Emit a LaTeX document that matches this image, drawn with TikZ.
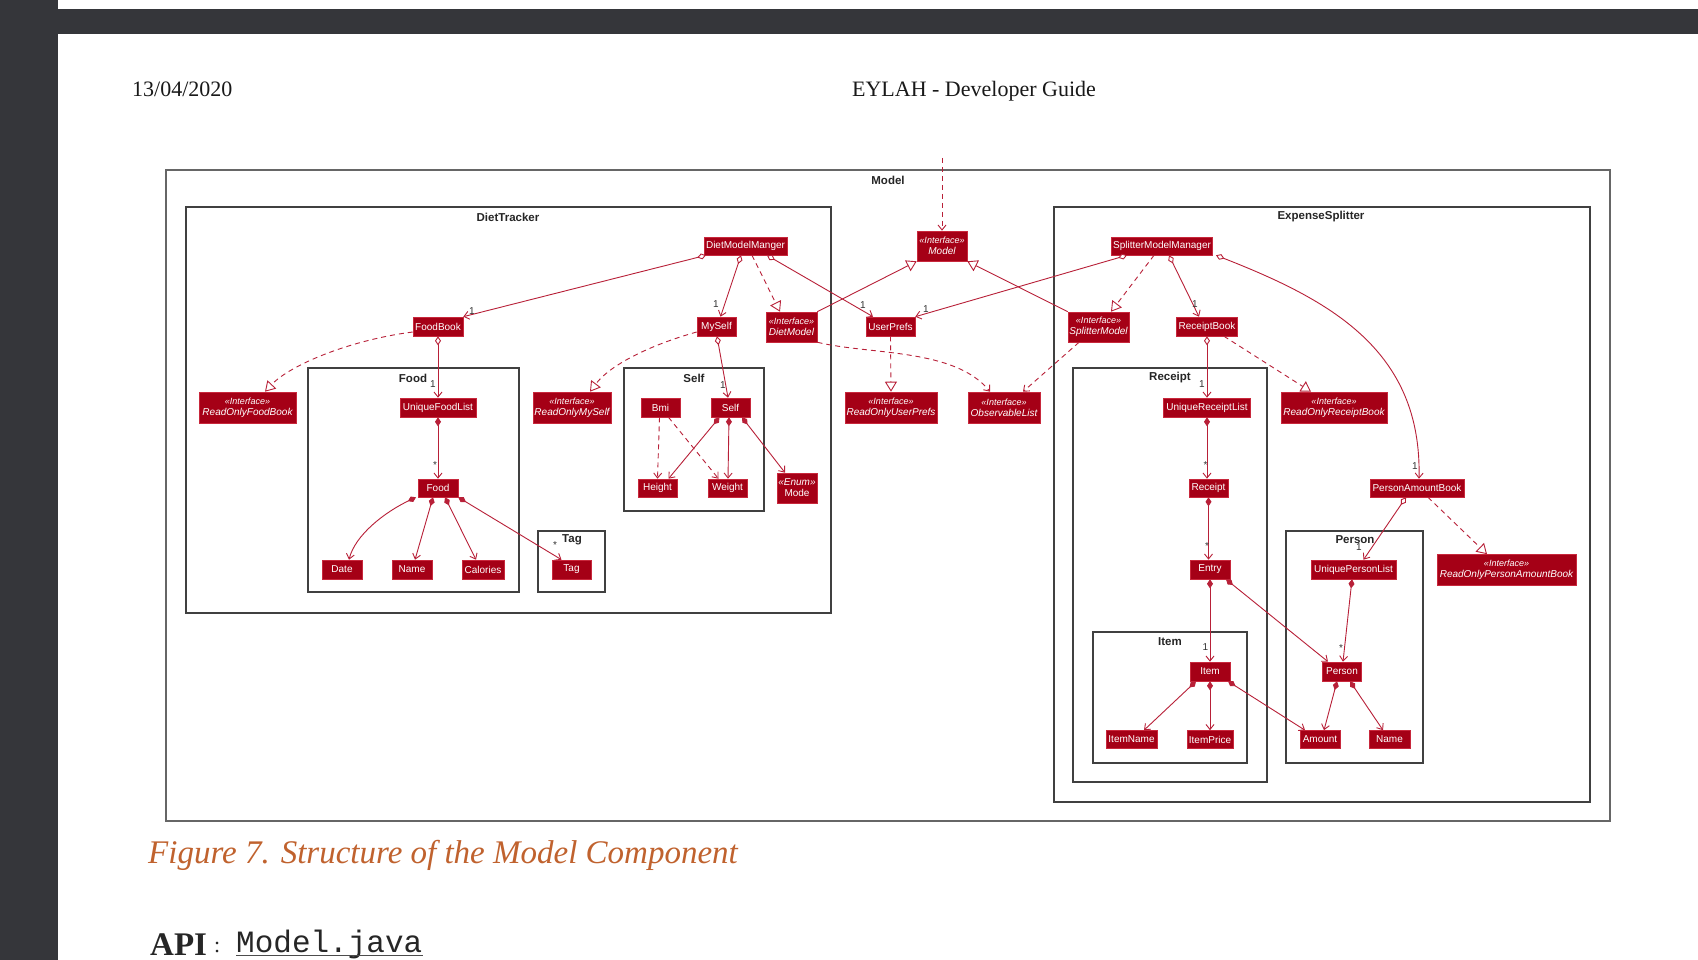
\documentclass[tikz,border=0pt]{standalone}
\usepackage{fontspec}
\setmainfont{Liberation Serif}
\setsansfont{Liberation Sans}
\setmonofont{Liberation Mono}
\usetikzlibrary{arrows.meta,calc}
\definecolor{clsfill}{HTML}{A50016}
\definecolor{clsdraw}{HTML}{C8283C}
\definecolor{conncol}{HTML}{B82038}
\definecolor{pagedark}{HTML}{35363A}
\definecolor{capcol}{HTML}{C0622E}
\newcommand\stereotag[1]{{\fontsize{9}{9}\selectfont«#1»}}
\begin{document}
\begin{tikzpicture}[x=1pt,y=-1pt,
  cls/.style={fill=clsfill,draw=clsdraw,line width=0.6pt,text=white,
    font=\sffamily\fontsize{10}{11}\selectfont,minimum height=19pt,inner sep=0pt,align=center},
  iface/.style={cls,minimum height=31pt,font=\sffamily\itshape\fontsize{10}{11}\selectfont},
  pkg/.style={draw=black!75,line width=1.2pt},
  pkgtitle/.style={font=\sffamily\bfseries\fontsize{11.5}{12}\selectfont,text=black!85,inner sep=0pt},
  mult/.style={font=\sffamily\fontsize{10}{11}\selectfont,text=black!80,inner sep=0pt},
  conn/.style={draw=conncol,line width=0.9pt},
  dsh/.style={dash pattern=on 5pt off 4pt},
  agg/.style={conn,{Diamond[fill=white,length=9pt,width=6pt]}-{Straight Barb[length=5pt,width=8pt]}},
  comp/.style={conn,{Diamond[length=9pt,width=6pt]}-{Straight Barb[length=5pt,width=8pt]}},
  real/.style={conn,dsh,-{Triangle[fill=white,length=10pt,width=12pt]}},
  gen/.style={conn,-{Triangle[fill=white,length=10pt,width=12pt]}},
  dep/.style={conn,dsh,-{Straight Barb[length=5pt,width=8pt]}}
]
\useasboundingbox (0,0) rectangle (1698,960);
\fill[white] (0,0) rectangle (1698,960);
% page frame
\fill[pagedark] (0,0) rectangle (58,960);
\fill[pagedark] (58,9) rectangle (1698,34);
\node[anchor=base west,font=\fontsize{22}{24}\selectfont,text=black!90,inner sep=0pt] (date) at (132,96.5) {13/04/2020};
\node[anchor=base,font=\fontsize{22}{24}\selectfont,text=black!90,inner sep=0pt] (hdr) at (974,96.5) {EYLAH - Developer Guide};
\node[anchor=base west,font=\itshape\fontsize{33}{35}\selectfont,text=capcol,inner sep=0pt] (caption) at (148,863) {Figure 7. Structure of the Model Component};
\node[anchor=base west,font=\bfseries\fontsize{33}{35}\selectfont,text=black!85,inner sep=0pt] (api) at (150,955) {API};
\node[anchor=base west,font=\fontsize{22}{24}\selectfont,text=black!85,inner sep=0pt] (colon) at (214,952) {:};
\node[anchor=base west,font=\ttfamily\fontsize{31}{33}\selectfont,text=black!85,inner sep=0pt] (mjava) at (236,952) {Model.java};
\draw[black!70,line width=1.2pt] (mjava.base west) ++(0,3.5) -- ++(187,0);

% packages
\draw[draw=black!60,line width=1.4pt] (166,170) rectangle (1610,821);
\node[pkgtitle] (tmodel) at (888,180) {Model};
\draw[pkg] (186,207) rectangle (831,613);
\node[pkgtitle] (tdiet) at (508,217) {DietTracker};
\draw[pkg] (1054,207) rectangle (1590,802);
\node[pkgtitle] (texp) at (1321,217) {ExpenseSplitter};
\draw[pkg] (308,368) rectangle (519,592);
\node[pkgtitle] (tfood) at (413,378) {Food};
\draw[pkg] (538,531) rectangle (605,592);
\node[pkgtitle] (ttag) at (572,540) {Tag};
\draw[pkg] (624,368) rectangle (764,511);
\node[pkgtitle] (tself) at (694,378) {Self};
\draw[pkg] (1073,368) rectangle (1267,782);
\node[pkgtitle] (treceipt) at (1170,378) {Receipt};
\draw[pkg] (1093,632) rectangle (1247,763);
\node[pkgtitle] (titem) at (1170,642) {Item};
\draw[pkg] (1286,531) rectangle (1423,763);
\node[pkgtitle] (tperson) at (1355,540) {Person};

% classes
\node[cls,minimum width=83pt,minimum height=18pt] (dmm) at (745.5,246) {DietModelManger};
\node[cls,minimum width=50pt] (foodbook) at (438,326.5) {FoodBook};
\node[cls,minimum width=39pt] (myself) at (716.5,326.5) {MySelf};
\node[iface,minimum width=51pt,minimum height=30pt] (dietmodel) at (791.5,327) {\stereotag{Interface}\\DietModel};
\node[iface,minimum width=97pt] (rofb) at (247.5,407.5) {\stereotag{Interface}\\ReadOnlyFoodBook};
\node[cls,minimum width=76pt] (ufl) at (438,407.5) {UniqueFoodList};
\node[cls,minimum width=40pt,minimum height=18pt] (food) at (438,488) {Food};
\node[cls,minimum width=40pt] (date) at (342,569.5) {Date};
\node[cls,minimum width=40pt] (fname) at (412,569.5) {Name};
\node[cls,minimum width=42pt] (calories) at (483,569.5) {Calories};
\node[cls,minimum width=39pt] (tag) at (571.5,569.5) {Tag};
\node[iface,minimum width=78pt] (romyself) at (572,407.5) {\stereotag{Interface}\\ReadOnlyMySelf};
\node[cls,minimum width=39pt] (bmi) at (660.5,407.5) {Bmi};
\node[cls,minimum width=39pt] (selfn) at (730.5,407.5) {Self};
\node[cls,minimum width=39pt,minimum height=18pt] (height) at (657.5,488) {Height};
\node[cls,minimum width=39pt,minimum height=18pt] (weight) at (727.5,488) {Weight};
\node[iface,minimum width=40pt,minimum height=30pt] (mode) at (797,488) {«Enum»\\\textup{Mode}};
\node[iface,minimum width=50pt,minimum height=30pt] (model) at (942,246) {\stereotag{Interface}\\Model};
\node[cls,minimum width=49pt] (userprefs) at (890.5,326.5) {UserPrefs};
\node[iface,minimum width=92pt] (roup) at (891,407.5) {\stereotag{Interface}\\ReadOnlyUserPrefs};
\node[iface,minimum width=72pt] (obslist) at (1004,407.5) {\stereotag{Interface}\\ObservableList};
\node[cls,minimum width=101pt,minimum height=18pt] (smm) at (1162,246) {SplitterModelManager};
\node[iface,minimum width=61pt,minimum height=30pt] (splitmodel) at (1098.5,327) {\stereotag{Interface}\\SplitterModel};
\node[cls,minimum width=61pt] (receiptbook) at (1207,326.5) {ReceiptBook};
\node[iface,minimum width=106pt] (rorb) at (1334,407.5) {\stereotag{Interface}\\ReadOnlyReceiptBook};
\node[cls,minimum width=87pt] (url) at (1207,407.5) {UniqueReceiptList};
\node[cls,minimum width=39pt,minimum height=18pt] (receipt) at (1208.5,488) {Receipt};
\node[cls,minimum width=40pt] (entry) at (1210,569.5) {Entry};
\node[cls,minimum width=40pt] (item) at (1210,671.5) {Item};
\node[cls,minimum width=51pt,minimum height=18pt] (itemname) at (1131.5,739.5) {ItemName};
\node[cls,minimum width=46pt,minimum height=18pt] (itemprice) at (1210,739.5) {ItemPrice};
\node[cls,minimum width=94pt,minimum height=18pt] (pab) at (1417,488) {PersonAmountBook};
\node[cls,minimum width=85pt] (upl) at (1353.5,569.5) {UniquePersonList};
\node[cls,minimum width=39pt] (person) at (1342,671.5) {Person};
\node[cls,minimum width=40pt,minimum height=18pt] (amount) at (1320,739.5) {Amount};
\node[cls,minimum width=41pt,minimum height=18pt] (pname) at (1389.5,739.5) {Name};
\node[iface,minimum width=139pt] (ropab) at (1506.5,570) {\stereotag{Interface}\\ReadOnlyPersonAmountBook};

% connectors
\coordinate (mtop) at (942,158);
\draw[dep] (mtop) -- (model.north);
\draw[agg] ([xshift=-39.5pt]dmm.south) -- (foodbook.north east);
\draw[agg] ([xshift=-4.5pt]dmm.south) -- ([xshift=4pt]myself.north);
\draw[real] ([xshift=6.5pt]dmm.south) -- ([xshift=-11.5pt]dietmodel.north);
\draw[agg] ([xshift=21.5pt]dmm.south) -- ([xshift=-17.5pt]userprefs.north);
\draw[gen] (dietmodel.north east) -- (model.south west);
\draw[gen] (splitmodel.north west) -- (model.south east);
\draw[agg] ([xshift=-35pt]smm.south) -- (userprefs.north east);
\draw[real] ([xshift=-8pt]smm.south) -- ([xshift=12.5pt]splitmodel.north);
\draw[agg] ([xshift=7pt]smm.south) -- ([xshift=-8pt]receiptbook.north);
\draw[agg] ([xshift=54pt]smm.south) .. controls (1330,300) and (1422,350) .. ([xshift=2pt]pab.north);
\draw[real] ([yshift=-5.5pt]foodbook.west) .. controls (350,340) and (290,365) .. ([xshift=17.5pt]rofb.north);
\draw[agg] (foodbook.south) -- (ufl.north);
\draw[comp] (ufl.south) -- (food.north);
\draw[comp] ([xshift=-22pt]food.south) .. controls (385,512) and (355,535) .. ([xshift=7pt]date.north);
\draw[comp] ([xshift=-5pt]food.south) -- ([xshift=3pt]fname.north);
\draw[comp] ([xshift=7pt]food.south) -- ([xshift=-7pt]calories.north);
\draw[comp] (food.south east) -- ([xshift=-10pt]tag.north);
\draw[real] ([yshift=-5.5pt]myself.west) .. controls (650,345) and (610,365) .. ([xshift=18pt]romyself.north);
\draw[agg] ([xshift=0.5pt]myself.south) -- ([xshift=-2.5pt]selfn.north);
\draw[dep] ([xshift=-1pt]bmi.south) -- (height.north);
\draw[dep] ([xshift=8pt]bmi.south) -- ([xshift=-9pt]weight.north);
\draw[comp] ([xshift=-11pt]selfn.south) -- ([xshift=11pt]height.north);
\draw[comp] ([xshift=-1.5pt]selfn.south) -- ([xshift=0.5pt]weight.north);
\draw[comp] ([xshift=11.5pt]selfn.south) -- ([xshift=-12pt]mode.north);
\draw[dep] ([xshift=26pt,yshift=0pt]dietmodel.south) .. controls (870,355) and (955,348) .. ([xshift=-14pt]obslist.north);
\draw[real] (userprefs.south) -- (roup.north);
\draw[dep] ([xshift=-19.5pt]splitmodel.south) -- ([xshift=19pt]obslist.north);
\draw[agg] (receiptbook.south) -- (url.north);
\draw[real] ([xshift=17pt]receiptbook.south) -- ([xshift=-23pt]rorb.north);
\draw[comp] (url.south) -- ([xshift=-1.5pt]receipt.north);
\draw[comp] (receipt.south) -- ([xshift=-1.5pt]entry.north);
\draw[comp] (entry.south) -- (item.north);
\draw[comp] ([xshift=16pt]entry.south) -- ([xshift=-14pt]person.north);
\draw[comp] ([xshift=-14pt]item.south) -- ([xshift=12.5pt]itemname.north);
\draw[comp] (item.south) -- (itemprice.north);
\draw[comp] ([xshift=18pt]item.south) -- ([xshift=-15pt]amount.north);
\draw[agg] ([xshift=-11pt]pab.south) -- ([xshift=10pt]upl.north);
\draw[real] ([xshift=11pt]pab.south) -- ([xshift=-19.5pt]ropab.north);
\draw[comp] ([xshift=-1.5pt]upl.south) -- ([xshift=1pt]person.north);
\draw[comp] ([xshift=-5pt]person.south) -- ([xshift=4pt]amount.north);
\draw[comp] ([xshift=8pt]person.south) -- ([xshift=-6.5pt]pname.north);

% multiplicities
\node[mult] (m1) at (472,311) {1};
\node[mult] (m2) at (716,304) {1};
\node[mult] (m3) at (863,305) {1};
\node[mult] (m4) at (926,309) {1};
\node[mult] (m5) at (1195,304) {1};
\node[mult] (m6) at (1415,466) {1};
\node[mult] (m7) at (433,384) {1};
\node[mult] (m8) at (435,465) {*};
\node[mult] (m9) at (555,545) {*};
\node[mult] (m10) at (723,385) {1};
\node[mult] (m11) at (1202,384) {1};
\node[mult] (m12) at (1205.5,465) {*};
\node[mult] (m13) at (1207,546) {*};
\node[mult] (m14) at (1205.5,647) {1};
\node[mult] (m15) at (1359,547) {1};
\node[mult] (m16) at (1341,648) {*};
\end{tikzpicture}
\end{document}
